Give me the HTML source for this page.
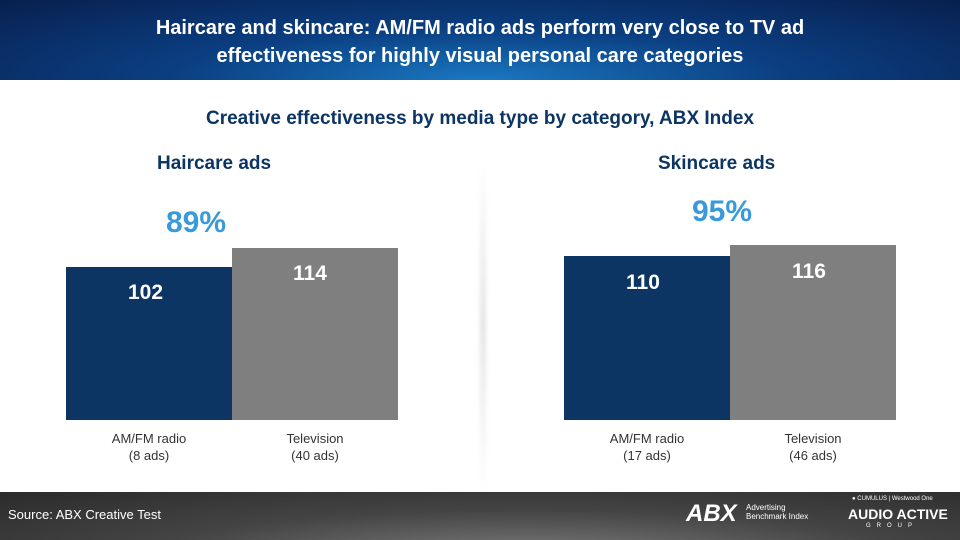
<!DOCTYPE html>
<html><head><style>
body{margin:0;width:960px;height:540px;position:relative;overflow:hidden;background:#fff;font-family:"Liberation Sans",sans-serif}
.hdr{position:absolute;left:0;top:0;width:960px;height:80px;background:radial-gradient(ellipse at 50% 100%,#1a78c2 0%,#0b3f82 45%,#081f4e 100%);color:#fff;font-weight:bold;font-size:20px;line-height:28px;text-align:center;padding-top:14px;box-sizing:border-box}
.ftr{position:absolute;left:0;top:492px;width:960px;height:48px;background:radial-gradient(ellipse at 55% 130%,#7a7a7a 0%,#444 50%,#2b2b2b 100%);color:#fff}
.t{position:absolute;white-space:nowrap}
.bar{position:absolute}
.lbl{position:absolute;font-size:13px;color:#333;text-align:center;width:166px;line-height:17px}
.v{position:absolute;color:#fff;font-weight:bold;font-size:21px}
.p{position:absolute;color:#3a9ad9;font-weight:bold;font-size:30px}
</style></head><body>
<div class="hdr">Haircare and skincare: AM/FM radio ads perform very close to TV ad<br>effectiveness for highly visual personal care categories</div>
<div class="t" style="left:0;width:960px;text-align:center;top:108px;font-size:19px;font-weight:bold;color:#0d3563">Creative effectiveness by media type by category, ABX Index</div>
<div class="t" style="left:157px;top:153px;font-size:19px;font-weight:bold;color:#0d3563">Haircare ads</div>
<div class="t" style="left:658px;top:153px;font-size:19px;font-weight:bold;color:#0d3563">Skincare ads</div>
<div style="position:absolute;left:480px;top:160px;width:6px;height:330px;background:linear-gradient(180deg,rgba(255,255,255,0),rgba(200,200,200,.5),rgba(255,255,255,0));filter:blur(2px)"></div>
<div class="p" style="left:166px;top:206px">89%</div>
<div class="p" style="left:692px;top:195px">95%</div>
<div class="bar" style="left:66px;top:267px;width:166px;height:153px;background:#0d3563"></div>
<div class="bar" style="left:232px;top:248px;width:166px;height:172px;background:#7f7f7f"></div>
<div class="bar" style="left:564px;top:256px;width:166px;height:164px;background:#0d3563"></div>
<div class="bar" style="left:730px;top:245px;width:166px;height:175px;background:#7f7f7f"></div>
<div class="v" style="left:128px;top:281px">102</div>
<div class="v" style="left:293px;top:262px">114</div>
<div class="v" style="left:626px;top:271px">110</div>
<div class="v" style="left:792px;top:260px">116</div>
<div class="lbl" style="left:66px;top:430px">AM/FM radio<br>(8 ads)</div>
<div class="lbl" style="left:232px;top:430px">Television<br>(40 ads)</div>
<div class="lbl" style="left:564px;top:430px">AM/FM radio<br>(17 ads)</div>
<div class="lbl" style="left:730px;top:430px">Television<br>(46 ads)</div>
<div class="ftr">
<div class="t" style="left:8px;top:15px;font-size:13px">Source: ABX Creative Test</div>
<div class="t" style="left:686px;top:8px;font-size:24px;font-weight:bold;font-style:italic">ABX</div>
<div class="t" style="left:746px;top:11px;font-size:8px;line-height:9px">Advertising<br>Benchmark Index</div>
<div class="t" style="left:852px;top:4px;font-size:6px">● CUMULUS | Westwood One</div>
<div class="t" style="left:848px;top:14px;font-size:14px;font-weight:bold">AUDIO ACTIVE</div>
<div class="t" style="left:866px;top:31px;font-size:6px;letter-spacing:6px">GROUP</div>
</div>
</body></html>
